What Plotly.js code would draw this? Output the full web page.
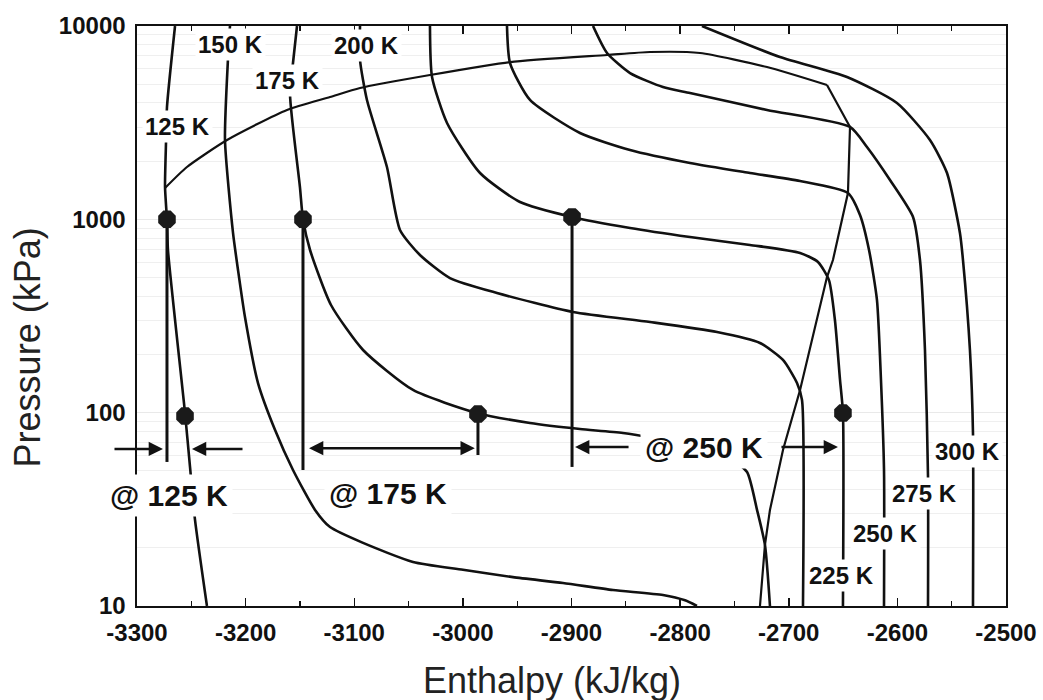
<!DOCTYPE html>
<html><head><meta charset="utf-8">
<script src="https://cdn.plot.ly/plotly-3.0.1.min.js"></script>
<style>html,body{margin:0;padding:0;background:#fff}#chart{width:1043px;height:700px}</style>
</head><body><div id="chart"></div>
<script>
// ---------- DATA (enthalpy kJ/kg, pressure kPa) ----------
const h125 = [-3265.0, -3272.4, -3273.3, -3274.2, -3272.4, -3271.5, -3255.8, -3251.2, -3246.6, -3235.6];
const p125 = [10000, 3811, 2483, 1469, 992, 694, 99.6, 52.4, 27.9, 10];

const h150 = [-3214.4, -3216.2, -3219.0, -3211.6, -3207.0, -3200.6, -3188.6, -3172.9, -3156.4, -3136.1, -3122.3, -3091.9, -3045.9, -2999.9, -2953.9, -2907.8, -2861.8, -2815.8, -2795.5, -2784.5];
const p150 = [10000, 6830, 2572, 850, 547, 312.6, 142.3, 81.3, 50.5, 31.4, 25.6, 21.2, 16.9, 15.4, 14.1, 13.15, 12.1, 11.4, 10.7, 10];

const h175 = [-3152.7, -3156.4, -3159.1, -3150.0, -3147.2, -3140.7, -3121.4, -3091.9, -3045.9, -2987.0, -2938.2, -2892.2, -2852.6, -2790.9, -2754.1, -2738.4, -2729.2, -2721.9, -2717.3];
const p175 = [10000, 6435, 4395, 1469, 1000, 694, 360.5, 210.9, 131, 99.6, 88.4, 82.3, 78.5, 68.0, 58.3, 49.3, 31.4, 20.7, 10];

const h200 = [-3094.7, -3094.7, -3088.3, -3069.9, -3057.9, -3039.5, -3011.9, -2968.6, -2898.6, -2827.7, -2766.0, -2726.5, -2705.3, -2692.4, -2687.8, -2686.9];
const p200 = [10000, 6670, 4143, 1865, 881, 654, 497, 416, 331.6, 294.4, 261.3, 229.2, 187.3, 142.3, 116.3, 10];

const h225 = [-3030.3, -3028.4, -3014.6, -2984.2, -2947.4, -2899.5, -2846.1, -2790.9, -2735.7, -2689.6, -2673.1, -2663.0, -2657.5, -2652.8, -2650.1, -2650.1];
const p225 = [10000, 5446, 3150, 1736, 1229, 1028, 902, 810, 737, 670, 602, 485, 301.5, 147.6, 99.6, 10];

const h250 = [-2959.4, -2956.6, -2938.2, -2892.2, -2846.1, -2790.9, -2735.7, -2689.6, -2645.5, -2634.4, -2626.1, -2618.8, -2615.1, -2612.3, -2612.3];
const p250 = [10000, 6435, 4143, 2796, 2284, 1956, 1736, 1579, 1368, 1053, 694, 383, 147.6, 50.5, 10];

const h275 = [-2880.2, -2867.3, -2846.1, -2815.8, -2790.9, -2720.0, -2643.6, -2628.0, -2606.8, -2585.6, -2579.2, -2574.6, -2571.8, -2571.8];
const p275 = [10000, 7250, 5710, 4835, 4500, 3677, 3004, 2366, 1597, 1028, 616, 210.9, 46.5, 10];

const h300 = [-2779.9, -2708.1, -2646.4, -2600.4, -2570.0, -2554.3, -2542.4, -2539.6, -2533.2, -2530.4, -2530.4];
const p300 = [10000, 6912, 5446, 3996, 2572, 1736, 850, 616, 210.9, 78.5, 10];

// phase envelope (bubble + dew line)
const hEnv = [-3274.2, -3254.0, -3217.1, -3161.9, -3122.3, -3094.7, -3030.3, -2956.6, -2867.3, -2827.7, -2781.7, -2720.0, -2664.8, -2643.6, -2645.5, -2659.3, -2664.8, -2674.0, -2689.6, -2705.3, -2717.3, -2721.9, -2726.5];
const pEnv = [1452, 1865, 2572, 3677, 4292, 4778, 5578, 6510, 7080, 7335, 7250, 6135, 4952, 3004, 1368, 616, 503, 301.5, 131, 64.1, 31.4, 20.7, 10];

// state points
const hDot = [-3272.4, -3255.8, -3147.2, -2986.1, -2899.5, -2650.1];
const pDot = [1000, 96, 1000, 98.4, 1028, 99.6];

// vertical (isenthalpic) bracket lines
const hVert = [-3272.4, -3147.2, -2899.5, -2986.1];
const pVertTop = [1000, 1000, 1028, 98.4];
const pVertBot = [55.6, 50.5, 52.4, 60.4];

// isotherm labels
const isoLabel = ['125 K', '150 K', '175 K', '200 K', '225 K', '250 K', '275 K', '300 K'];
const isoLabelH = [-3262.3, -3213.5, -3161.9, -3088.3, -2651.0, -2610.5, -2574.6, -2535.0];
const isoLabelP = [3004, 8070, 5256, 7975, 14.3, 23.6, 38.4, 63.3];

// "@ T" labels
const atLabel = ['@ 125 K', '@ 175 K', '@ 250 K'];
const atLabelH = [-3270.5, -3068.9, -2778.0];
const atLabelP = [37.5, 38.4, 66.4];

// dimension arrows: head enthalpy, tail enthalpy, pressure, double-headed?
const arrHead = [-3276.1, -3249.4, -2989.0, -2896.7, -2654.7];
const arrTail = [-3322.1, -3201.5, -3143.0, -2846.1, -2708.1];
const arrP = [64.9, 64.9, 65.5, 66.4, 66.4];
const arrBoth = [false, false, true, false, false];

const xTickVals = [-3300, -3200, -3100, -3000, -2900, -2800, -2700, -2600, -2500];
const xTickText = ['-3300', '-3200', '-3100', '-3000', '-2900', '-2800', '-2700', '-2600', '-2500'];
const yTickVals = [10, 100, 1000, 10000];
const yTickText = ['10', '100', '1000', '10000'];

// ---------- BUILD ----------
const FONT = 'Liberation Sans, Arial, Helvetica, sans-serif';
const INK = '#111';
const traces = [];
const iso = [[h125,p125],[h150,p150],[h175,p175],[h200,p200],[h225,p225],[h250,p250],[h275,p275],[h300,p300]];
iso.forEach(([h,p]) => traces.push({x:h, y:p, type:'scatter', mode:'lines',
  line:{color:INK, width:2.6, shape:'spline', smoothing:0.6}, hoverinfo:'skip', showlegend:false}));

traces.push({x:hEnv.slice(0,13), y:pEnv.slice(0,13), type:'scatter', mode:'lines',
  line:{color:INK, width:2.2, shape:'spline', smoothing:0.6}, hoverinfo:'skip', showlegend:false});
traces.push({x:hEnv.slice(12), y:pEnv.slice(12), type:'scatter', mode:'lines',
  line:{color:INK, width:2.2}, hoverinfo:'skip', showlegend:false});

hVert.forEach((h,i) => traces.push({x:[h,h], y:[pVertTop[i], pVertBot[i]], type:'scatter', mode:'lines',
  line:{color:INK, width:3}, hoverinfo:'skip', showlegend:false}));

traces.push({x:hDot, y:pDot, type:'scatter', mode:'markers',
  marker:{symbol:'octagon', size:19, color:'#1a1a1a', line:{width:0}}, hoverinfo:'skip', showlegend:false});

const annotations = [];
isoLabel.forEach((t,i) => annotations.push({x:isoLabelH[i], y:Math.log10(isoLabelP[i]), xref:'x', yref:'y',
  text:'<b>'+t+'</b>', showarrow:false, bgcolor:'#fff', borderpad:2,
  font:{family:FONT, size:24, color:INK}}));
atLabel.forEach((t,i) => annotations.push({x:atLabelH[i], y:Math.log10(atLabelP[i]), xref:'x', yref:'y',
  text:'<b>'+t+'</b>', showarrow:false, bgcolor:'#fff', borderpad:4,
  font:{family:FONT, size:30, color:INK}}));
arrHead.forEach((h,i) => annotations.push({x:h, y:Math.log10(arrP[i]), xref:'x', yref:'y',
  ax:arrTail[i], ay:Math.log10(arrP[i]), axref:'x', ayref:'y', text:'', showarrow:true,
  arrowhead:2, startarrowhead:2, arrowside: arrBoth[i] ? 'end+start' : 'end',
  arrowsize:1.1, arrowwidth:2.6, arrowcolor:INK, standoff:0, startstandoff:0}));

annotations.push({xref:'paper', yref:'paper', x:0.478, y:-0.129, text:'Enthalpy (kJ/kg)', showarrow:false,
  xanchor:'center', yanchor:'middle', font:{family:FONT, size:36, color:'#222'}});
annotations.push({xref:'paper', yref:'paper', x:-0.126, y:0.445, text:'Pressure (kPa)', showarrow:false,
  textangle:-90, xanchor:'center', yanchor:'middle', font:{family:FONT, size:36, color:'#222'}});

const minorY = [];
[10, 100, 1000].forEach(d => { for (let k = 2; k <= 9; k++) minorY.push(k*d); });

const layout = {
  width:1043, height:700,
  margin:{l:137, r:37, t:26, b:94},
  paper_bgcolor:'#fff', plot_bgcolor:'#fff',
  showlegend:false,
  font:{family:FONT, color:INK},
  xaxis:{range:[-3300,-2500], tickmode:'array', tickvals:xTickVals, ticktext:xTickText,
    ticks:'inside', ticklen:8, tickwidth:1.5, tickcolor:INK,
    showline:true, linecolor:INK, linewidth:1.6, mirror:'allticks',
    showgrid:false, zeroline:false, ticklabelstandoff:5,
    tickfont:{family:FONT, size:24, color:INK, weight:'bold'},
    minor:{dtick:50, tick0:-3300, ticks:'inside', ticklen:5, tickwidth:1.2, tickcolor:INK, showgrid:false}},
  yaxis:{type:'log', range:[1,4], tickmode:'array', tickvals:yTickVals, ticktext:yTickText,
    ticks:'', showline:true, linecolor:INK, linewidth:1.6, mirror:true,
    showgrid:true, gridcolor:'#e9e9e9', gridwidth:1, zeroline:false, ticklabelstandoff:5,
    tickfont:{family:FONT, size:24, color:INK, weight:'bold'},
    minor:{tickmode:'array', tickvals:minorY, ticks:'', showgrid:true, gridcolor:'#efefef', gridwidth:1}},
  annotations:annotations
};

Plotly.newPlot('chart', traces, layout, {displayModeBar:false, staticPlot:true});
</script></body></html>
